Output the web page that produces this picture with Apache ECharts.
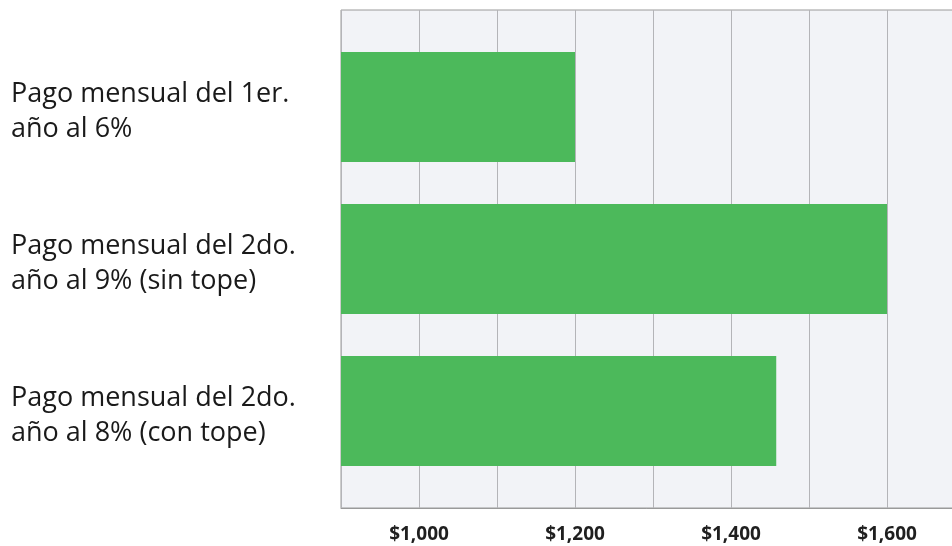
<!DOCTYPE html>
<html>
<head>
<meta charset="utf-8">
<script src="https://cdn.jsdelivr.net/npm/echarts@6/dist/echarts.min.js"></script>
<style>
  html, body { margin: 0; padding: 0; background: #ffffff; }
  #chart { width: 952px; height: 546px; }
</style>
</head>
<body>
<div id="chart"></div>
<script>
// Monthly payment scenarios
const categories = [
  'Pago mensual del 1er.\naño al 6%',
  'Pago mensual del 2do.\naño al 9% (sin tope)',
  'Pago mensual del 2do.\naño al 8% (con tope)'
];
const payments = [1200, 1600, 1458];
const xMin = 900;
const xMax = 1700;
const xStep = 100;
const labelledTicks = [1000, 1200, 1400, 1600];

const chart = echarts.init(document.getElementById('chart'));

const fmtMoney = v => '$' + v.toLocaleString('en-US');

// Category label: a thin spacer line above the two text lines nudges the block down
const fmtCategory = v => '{g| }\n' + v.split('\n').map(s => '{t|' + s + '}').join('\n');

chart.setOption({
  animation: false,
  grid: [
    { left: 341, top: 10, width: 624, height: 498, show: true,
      outerBoundsMode: 'none', containLabel: false,
      backgroundColor: '#f2f3f7', borderColor: '#9a9a9a', borderWidth: 1 },
    { left: 341, top: 31, width: 624, height: 456,
      outerBoundsMode: 'none', containLabel: false }
  ],
  xAxis: [
    {
      gridIndex: 0, type: 'value', min: xMin, max: xMax, interval: xStep,
      axisLine: { show: true, lineStyle: { color: '#9a9a9a', width: 1 } },
      axisTick: { show: false },
      splitLine: { show: true, lineStyle: { color: '#b4b4b8', width: 1 } },
      axisLabel: {
        margin: 17,
        fontFamily: 'Open Sans', fontWeight: 'bold', fontSize: 19, color: '#1f1f1f',
        formatter: v => labelledTicks.includes(v) ? fmtMoney(v) : ''
      }
    },
    {
      gridIndex: 1, type: 'value', min: xMin, max: xMax, interval: xStep,
      show: false, splitLine: { show: false }
    }
  ],
  yAxis: [
    { gridIndex: 0, type: 'value', show: false, splitLine: { show: false } },
    {
      gridIndex: 1, type: 'category', data: categories, inverse: true,
      axisLine: { show: false }, axisTick: { show: false },
      axisLabel: {
        align: 'left', margin: 330,
        formatter: fmtCategory,
        rich: {
          g: { fontSize: 6, lineHeight: 10 },
          t: { fontFamily: 'Open Sans', fontSize: 27, lineHeight: 35, color: '#1a1a1a' }
        }
      }
    }
  ],
  series: [
    {
      type: 'bar', xAxisIndex: 1, yAxisIndex: 1,
      data: payments, barWidth: 110,
      itemStyle: { color: '#4cb95b' }
    }
  ]
});
</script>
</body>
</html>
